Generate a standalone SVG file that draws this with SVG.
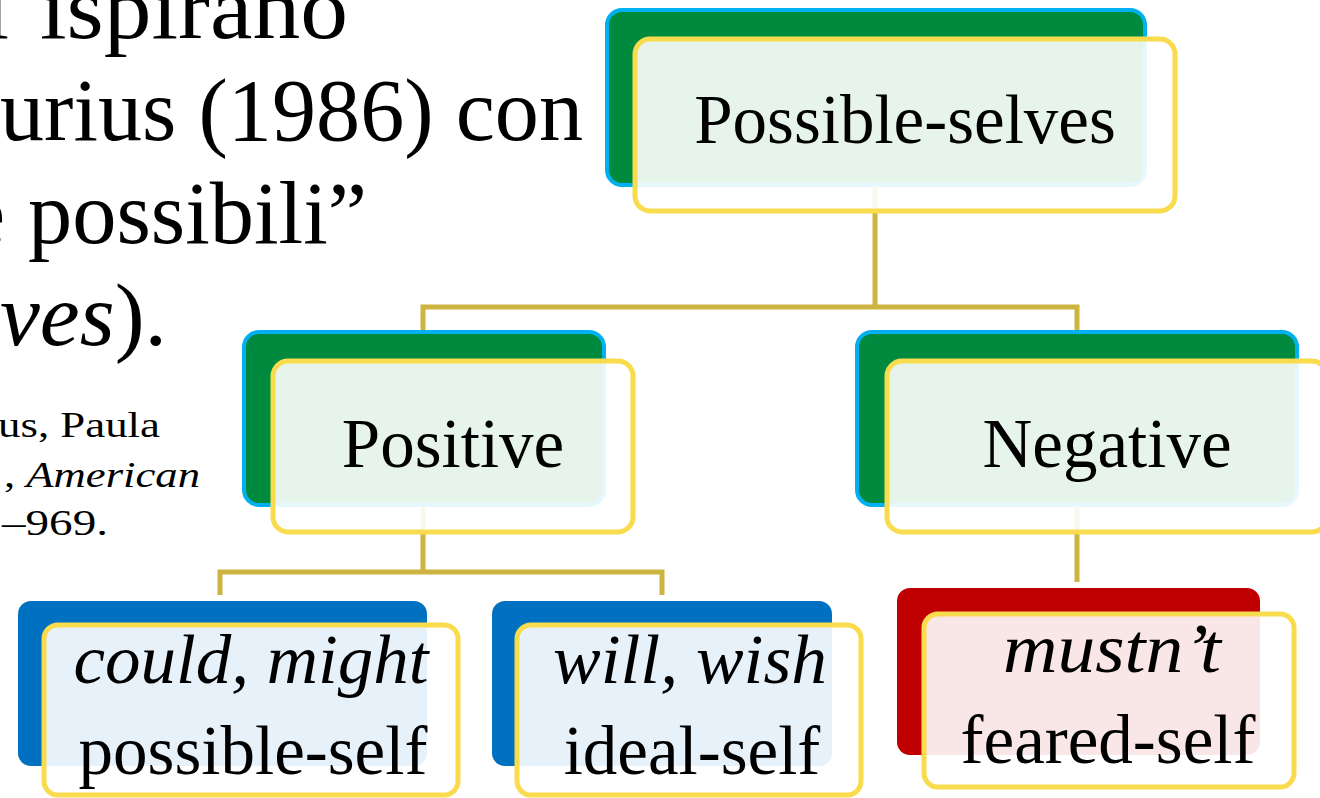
<svg xmlns="http://www.w3.org/2000/svg" width="1320" height="798" viewBox="0 0 1320 798">
<style>
  .t{font-family:"Liberation Serif","Times New Roman",serif;fill:#000}
  .para{font-size:88px}
  .cite{font-size:36px}
  .lbl{font-size:69px;text-anchor:middle}
  .it{font-style:italic}
  .conn{fill:none;stroke:#CDB33F;stroke-width:5;stroke-linejoin:miter}
  .backg{fill:#008A3E;stroke:#00B0F0;stroke-width:4}
  .backb{fill:#0070C0}
  .backr{fill:#C00000}
  .front{fill:#FFFFFF;fill-opacity:0.9;stroke:#F9DC4E;stroke-width:5}
</style>
<rect width="1320" height="798" fill="#FFFFFF"/>
<g id="paragraph" class="t para">
  <text x="9" y="38" text-anchor="end">i</text>
  <text x="40" y="38" textLength="308" lengthAdjust="spacingAndGlyphs">ispirano</text>
  <text x="0" y="140" textLength="583" lengthAdjust="spacingAndGlyphs">urius (1986) con</text>
  <text x="5" y="243" text-anchor="end">e</text>
  <text x="28" y="243" textLength="339" lengthAdjust="spacingAndGlyphs">possibili”</text>
  <text x="0" y="345" textLength="167" lengthAdjust="spacingAndGlyphs"><tspan class="it">ves</tspan>).</text>
</g>
<g id="citation" class="t cite">
  <text x="-2" y="437" textLength="162" lengthAdjust="spacingAndGlyphs">us, Paula</text>
  <text x="4" y="487" textLength="196" lengthAdjust="spacingAndGlyphs">, <tspan class="it">American</tspan></text>
  <text x="2" y="535" textLength="106" lengthAdjust="spacingAndGlyphs">–969.</text>
</g>
<g id="connectors">
  <path class="conn" d="M875,185 V307 M423,330 V307 H1077 V330"/>
  <path class="conn" d="M423,505 V572 M220,595 V572 H662 V595"/>
  <path class="conn" d="M1077,505 V582"/>
</g>
<g id="node-possible-selves">
  <rect class="backg" x="607" y="10" width="538" height="175" rx="15"/>
  <rect class="front" x="635" y="39" width="540" height="172" rx="15"/>
  <text class="t lbl" x="905" y="143">Possible-selves</text>
</g>
<g id="node-positive">
  <rect class="backg" x="244" y="332" width="360" height="173" rx="15"/>
  <rect class="front" x="273" y="361" width="360" height="171" rx="15"/>
  <text class="t lbl" x="453" y="467">Positive</text>
</g>
<g id="node-negative">
  <rect class="backg" x="857" y="332" width="440" height="173" rx="15"/>
  <rect class="front" x="887" y="361" width="440" height="171" rx="15"/>
  <text class="t lbl" x="1107" y="467">Negative</text>
</g>
<g id="node-possible-self">
  <rect class="backb" x="18" y="601" width="409" height="165" rx="13"/>
  <rect class="front" x="44" y="625" width="414" height="170" rx="14"/>
  <text class="t lbl it" x="251" y="683" textLength="355" lengthAdjust="spacingAndGlyphs">could, might</text>
  <text class="t lbl" x="253" y="774">possible-self</text>
</g>
<g id="node-ideal-self">
  <rect class="backb" x="492" y="601" width="340" height="165" rx="13"/>
  <rect class="front" x="517" y="625" width="344" height="170" rx="14"/>
  <text class="t lbl it" x="690" y="683" textLength="274" lengthAdjust="spacingAndGlyphs">will, wish</text>
  <text class="t lbl" x="692" y="774">ideal-self</text>
</g>
<g id="node-feared-self">
  <rect class="backr" x="897" y="588" width="363" height="167" rx="13"/>
  <rect class="front" x="924" y="614" width="370" height="173" rx="14"/>
  <text class="t lbl it" x="1112" y="672" textLength="218" lengthAdjust="spacingAndGlyphs">mustn’t</text>
  <text class="t lbl" x="1108" y="763">feared-self</text>
</g>
</svg>
